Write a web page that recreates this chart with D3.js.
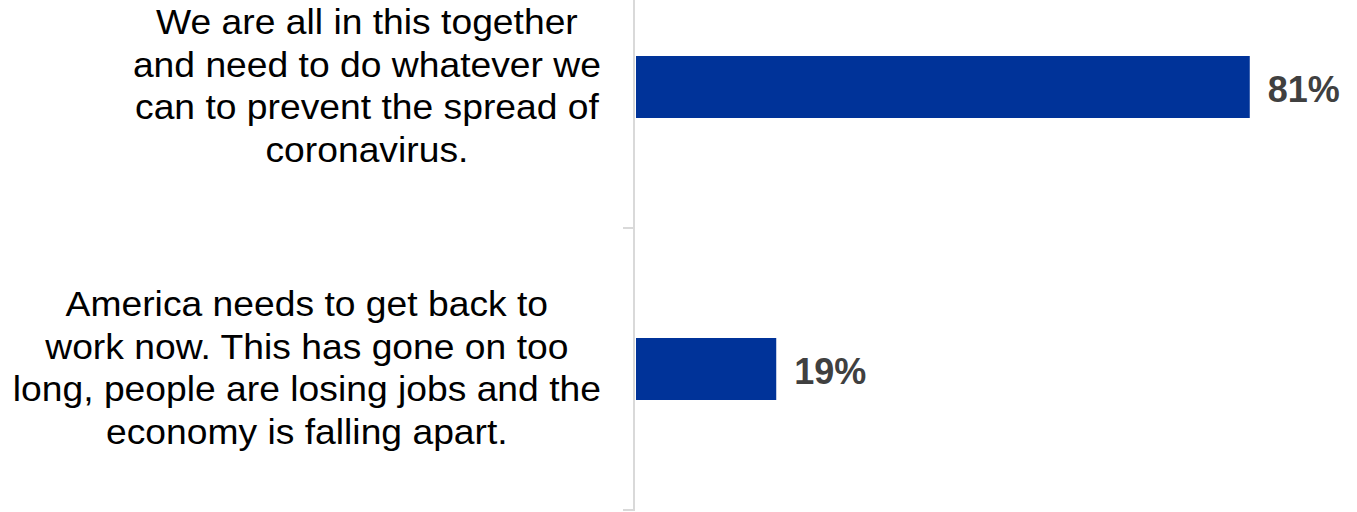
<!DOCTYPE html>
<html>
<head>
<meta charset="utf-8">
<script src="https://cdn.jsdelivr.net/npm/d3@7"></script>
<style>
  html, body { margin: 0; padding: 0; background: #fff; }
  svg { display: block; }
  text { font-family: "Liberation Sans", Arial, Helvetica, sans-serif; }
</style>
</head>
<body>
<svg id="chart" width="1357" height="512"></svg>
<script>
// ---- data ----
const categories = [
  "We are all in this together\nand need to do whatever we\ncan to prevent the spread of\ncoronavirus.",
  "America needs to get back to\nwork now. This has gone on too\nlong, people are losing jobs and the\neconomy is falling apart."
];
const values = [81.4, 18.6];
const valueLabels = ["81%", "19%"];

// ---- layout ----
const W = 1357, H = 512;
const svg = d3.select("#chart");

const axisX = 634;
const x = d3.scaleLinear().domain([0, 100]).range([636, 636 + 754]);
const y = d3.scaleBand().domain(categories).range([-54, 510]).padding(0);
const barH = 62;
const barColor = "#003399";

// axis line
svg.append("line")
  .attr("x1", axisX).attr("x2", axisX)
  .attr("y1", y.range()[0]).attr("y2", y.range()[1])
  .attr("stroke", "#d9d9d9").attr("stroke-width", 2);

// tick marks at band boundaries
svg.selectAll("line.tick")
  .data(categories)
  .join("line")
  .attr("class", "tick")
  .attr("x1", axisX - 11).attr("x2", axisX + 1)
  .attr("y1", d => y(d) + y.bandwidth())
  .attr("y2", d => y(d) + y.bandwidth())
  .attr("stroke", "#d9d9d9").attr("stroke-width", 2);

// bars
svg.selectAll("rect.bar")
  .data(categories)
  .join("rect")
  .attr("class", "bar")
  .attr("x", x(0))
  .attr("y", d => y(d) + y.bandwidth() / 2 - barH / 2)
  .attr("width", (d, i) => x(values[i]) - x(0))
  .attr("height", barH)
  .attr("fill", barColor);

// value labels
svg.selectAll("text.val")
  .data(categories)
  .join("text")
  .attr("class", "val")
  .attr("x", (d, i) => x(values[i]) + 18)
  .attr("y", d => y(d) + y.bandwidth() / 2 + 2)
  .attr("dy", "0.36em")
  .attr("font-size", 36)
  .attr("font-weight", "bold")
  .attr("fill", "#404040")
  .text((d, i) => valueLabels[i]);

// category labels (multi-line, block right-aligned, lines centered)
const labelRight = 601;
const lineH = 42.4;
const sx = 1.035;
categories.forEach(cat => {
  const lines = cat.split("\n");
  const g = svg.append("g");
  const t = g.selectAll("text")
    .data(lines)
    .join("text")
    .attr("font-size", 36)
    .attr("fill", "#000")
    .attr("text-anchor", "middle")
    .attr("x", 0)
    .attr("y", 0)
    .text(d => d);
  let maxW = 0;
  t.each(function() { maxW = Math.max(maxW, this.getComputedTextLength()); });
  const cx = labelRight - maxW * sx / 2;
  const cy = y(cat) + y.bandwidth() / 2;
  t.attr("transform", (d, i) =>
    `translate(${cx},${cy - (lines.length - 1) / 2 * lineH + i * lineH + 11}) scale(${sx},1)`);
});
</script>
</body>
</html>
